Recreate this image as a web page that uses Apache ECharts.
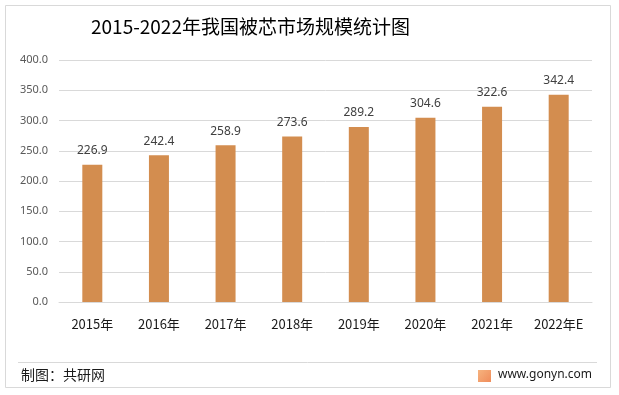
<!DOCTYPE html>
<html><head><meta charset="utf-8">
<script src="https://cdn.jsdelivr.net/npm/echarts@6/dist/echarts.min.js"></script>
<style>html,body{margin:0;padding:0;background:#fff}#c{width:619px;height:395px}</style>
</head><body><div id="c"></div>
<script>
const categories = ['2015年','2016年','2017年','2018年','2019年','2020年','2021年','2022年E'];
const values = [226.9, 242.4, 258.9, 273.6, 289.2, 304.6, 322.6, 342.4];
const titleText = '2015-2022年我国被芯市场规模统计图';
const sourceText = '制图：共研网';
const siteText = 'www.gonyn.com';

const chart = echarts.init(document.getElementById('c'));
chart.setOption({
  animation: false,
  backgroundColor: '#fff',
  title: {
    text: titleText, left: 86, top: 12,
    textStyle: {fontSize: 19, fontWeight: 'normal', color: '#000', fontFamily: 'Noto Sans CJK SC'}
  },
  grid: {left: 59, right: 27, top: 60, bottom: 93},
  xAxis: {
    type: 'category', data: categories,
    axisLine: {show: true, lineStyle: {color: '#d9d9d9'}},
    axisTick: {show: false},
    axisLabel: {color: '#1a1a1a', fontSize: 13, margin: 16, fontFamily: 'Noto Sans CJK SC'}
  },
  yAxis: {
    type: 'value', min: 0, max: 400, interval: 50,
    axisLine: {show: false}, axisTick: {show: false},
    splitLine: {lineStyle: {color: '#d9d9d9'}},
    axisLabel: {color: '#595959', fontSize: 11, margin: 11, formatter: v => v.toFixed(1), fontFamily: 'Noto Sans'}
  },
  series: [{
    type: 'bar', data: values, barWidth: 20,
    itemStyle: {color: '#D38D4F'},
    label: {show: true, position: 'top', distance: 8, color: '#404040', fontSize: 12, fontFamily: 'Noto Sans',
      formatter: p => p.value.toFixed(1)}
  }],
  graphic: [
    {type: 'rect', shape: {x: 5.5, y: 5.5, width: 605, height: 382}, style: {fill: 'none', stroke: '#d9d9d9', lineWidth: 1}, silent: true},
    {type: 'line', shape: {x1: 18, y1: 362.5, x2: 597, y2: 362.5}, style: {stroke: '#d9d9d9', lineWidth: 1}},
    {type: 'text', left: 21, top: 368, style: {text: sourceText, fontSize: 14, fill: '#1a1a1a', fontFamily: 'Noto Sans CJK SC'}},
    {type: 'rect', shape: {x: 478, y: 370, width: 13, height: 12}, style: {fill: new echarts.graphic.LinearGradient(0,0,1,1,[{offset:0,color:'#f6b37f'},{offset:1,color:'#f08c5a'}])}},
    {type: 'text', left: 498, top: 369, style: {text: siteText, fontSize: 12, fill: '#1a1a1a', fontFamily: 'Noto Sans'}}
  ]
});
</script></body></html>
